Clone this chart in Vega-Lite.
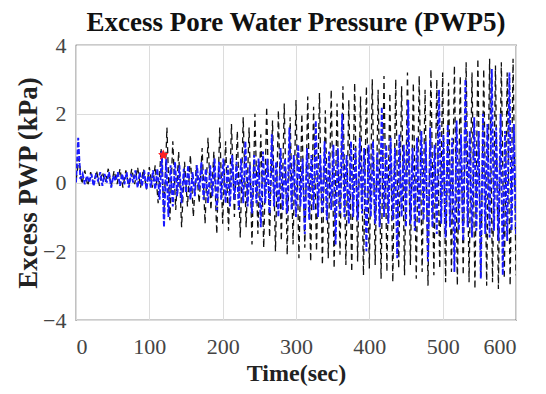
{
  "$schema": "https://vega.github.io/schema/vega-lite/v6.json",
  "width": 440,
  "height": 275,
  "autosize": "none",
  "padding": {"left": 76, "top": 45, "right": 30, "bottom": 74},
  "background": "white",
  "title": {"text": "Excess Pore Water Pressure (PWP5)", "font": "Liberation Serif", "fontSize": 27, "fontWeight": "bold", "color": "#111111", "offset": -3, "anchor": "middle"},
  "config": {
    "view": {"stroke": "#333333", "strokeWidth": 1.2},
    "axis": {"labelFont": "Liberation Serif", "labelFontSize": 22, "labelColor": "#444444", "titleFont": "Liberation Serif", "titleFontWeight": "bold", "titleColor": "#222222", "grid": true, "gridColor": "#dcdcdc", "gridWidth": 1, "domain": false, "ticks": false}
  },
  "datasets": {
    "black": [
      {"t":0,"v":0.05},{"t":4,"v":0.7},{"t":8,"v":-0.05},{"t":12,"v":0.35},{"t":16,"v":-0.1},{"t":20,"v":0.3},{"t":24,"v":-0.05},{"t":28,"v":0.35},{"t":32,"v":-0.1},{"t":36,"v":0.3},
      {"t":40,"v":0.0},{"t":44,"v":0.4},{"t":48,"v":-0.1},{"t":52,"v":0.35},{"t":56,"v":-0.05},{"t":60,"v":0.4},{"t":64,"v":-0.15},{"t":68,"v":0.35},{"t":72,"v":-0.1},{"t":76,"v":0.4},
      {"t":80,"v":-0.05},{"t":84,"v":0.45},{"t":88,"v":-0.15},{"t":92,"v":0.4},{"t":96,"v":-0.2},{"t":100,"v":0.45},{"t":104,"v":-0.15},{"t":108,"v":0.5},{"t":112,"v":-0.6},{"t":116,"v":1.0},
      {"t":120,"v":-0.9},{"t":124,"v":1.6},{"t":128,"v":-1.1},{"t":132,"v":1.2},{"t":136,"v":-0.8},{"t":140,"v":0.9},{"t":144,"v":-1.3},{"t":148,"v":0.6},{"t":152,"v":-0.7},{"t":156,"v":0.8},
      {"t":160,"v":-1.0},{"t":164,"v":0.5},{"t":168,"v":-0.6},{"t":172,"v":1.0},{"t":176,"v":-1.2},{"t":180,"v":1.3},{"t":184,"v":-0.8},{"t":188,"v":0.9},{"t":192,"v":-1.5},{"t":196,"v":1.6},
      {"t":200,"v":-1.2},{"t":204,"v":1.2},{"t":208,"v":-1.4},{"t":212,"v":1.7},{"t":216,"v":-1.0},{"t":220,"v":1.5},{"t":224,"v":-1.6},{"t":228,"v":1.9},{"t":232,"v":-1.3},{"t":236,"v":1.6},
      {"t":240,"v":-1.8},{"t":244,"v":2.0},{"t":248,"v":-1.5},{"t":252,"v":1.4},{"t":256,"v":-1.9},{"t":260,"v":2.2},{"t":264,"v":-1.6},{"t":268,"v":1.8},{"t":272,"v":-2.0},{"t":276,"v":2.1},
      {"t":280,"v":-1.7},{"t":284,"v":2.3},{"t":288,"v":-2.1},{"t":292,"v":1.9},{"t":296,"v":-1.8},{"t":300,"v":2.4},{"t":304,"v":-2.2},{"t":308,"v":2.0},{"t":312,"v":-1.9},{"t":316,"v":2.5},
      {"t":320,"v":-2.3},{"t":324,"v":2.2},{"t":328,"v":-2.0},{"t":332,"v":2.6},{"t":336,"v":-2.4},{"t":340,"v":2.1},{"t":344,"v":-2.2},{"t":348,"v":2.7},{"t":352,"v":-2.5},{"t":356,"v":2.3},
      {"t":360,"v":-2.1},{"t":364,"v":2.8},{"t":368,"v":-2.4},{"t":372,"v":2.4},{"t":376,"v":-2.6},{"t":380,"v":2.9},{"t":384,"v":-2.3},{"t":388,"v":2.5},{"t":392,"v":-2.7},{"t":396,"v":2.8},
      {"t":400,"v":-2.5},{"t":404,"v":3.0},{"t":408,"v":-2.4},{"t":412,"v":2.7},{"t":416,"v":-2.8},{"t":420,"v":3.1},{"t":424,"v":-2.6},{"t":428,"v":2.6},{"t":432,"v":-2.9},{"t":436,"v":3.0},
      {"t":440,"v":-2.5},{"t":444,"v":2.8},{"t":448,"v":-2.7},{"t":452,"v":3.2},{"t":456,"v":-2.4},{"t":460,"v":2.9},{"t":464,"v":-2.8},{"t":468,"v":3.1},{"t":472,"v":-2.6},{"t":476,"v":2.7},
      {"t":480,"v":-3.0},{"t":484,"v":3.3},{"t":488,"v":-2.7},{"t":492,"v":3.0},{"t":496,"v":-2.5},{"t":500,"v":3.2},{"t":504,"v":-2.9},{"t":508,"v":2.9},{"t":512,"v":-2.6},{"t":516,"v":3.4},
      {"t":520,"v":-3.0},{"t":524,"v":3.1},{"t":528,"v":-2.7},{"t":532,"v":3.5},{"t":536,"v":-2.9},{"t":540,"v":3.2},{"t":544,"v":-3.1},{"t":548,"v":3.6},{"t":552,"v":-2.8},{"t":556,"v":3.3},
      {"t":560,"v":-3.0},{"t":564,"v":3.6},{"t":568,"v":-2.9},{"t":572,"v":3.4},{"t":576,"v":-3.1},{"t":580,"v":3.5},{"t":584,"v":-2.8},{"t":588,"v":3.2},{"t":592,"v":-3.0},{"t":596,"v":3.6},
      {"t":600,"v":-2.7}
    ],
    "blue": [
      {"t":0,"v":0.0},{"t":3,"v":1.3},{"t":6,"v":0.1},{"t":9,"v":0.25},{"t":12,"v":-0.05},{"t":15,"v":0.2},{"t":18,"v":0.0},{"t":21,"v":0.25},{"t":24,"v":-0.1},{"t":27,"v":0.2},
      {"t":30,"v":0.05},{"t":33,"v":0.3},{"t":36,"v":-0.1},{"t":39,"v":0.25},{"t":42,"v":0.0},{"t":45,"v":0.3},{"t":48,"v":-0.15},{"t":51,"v":0.2},{"t":54,"v":0.05},{"t":57,"v":0.3},
      {"t":60,"v":-0.1},{"t":63,"v":0.25},{"t":66,"v":-0.05},{"t":69,"v":0.3},{"t":72,"v":-0.15},{"t":75,"v":0.25},{"t":78,"v":0.0},{"t":81,"v":0.35},{"t":84,"v":-0.15},{"t":87,"v":0.3},
      {"t":90,"v":-0.1},{"t":93,"v":0.35},{"t":96,"v":-0.2},{"t":99,"v":0.3},{"t":102,"v":-0.15},{"t":105,"v":0.35},{"t":108,"v":-0.2},{"t":111,"v":0.4},{"t":114,"v":-0.5},{"t":117,"v":0.9},
      {"t":120,"v":-1.3},{"t":123,"v":0.7},{"t":126,"v":-1.0},{"t":129,"v":0.5},{"t":132,"v":-0.7},{"t":135,"v":0.6},{"t":138,"v":-0.4},{"t":141,"v":0.5},{"t":144,"v":-0.6},{"t":147,"v":0.4},
      {"t":150,"v":-0.3},{"t":153,"v":0.5},{"t":156,"v":-0.5},{"t":159,"v":0.3},{"t":162,"v":-0.4},{"t":165,"v":0.5},{"t":168,"v":-0.2},{"t":171,"v":0.6},{"t":174,"v":-0.5},{"t":177,"v":0.4},
      {"t":180,"v":-0.6},{"t":183,"v":0.5},{"t":186,"v":-0.4},{"t":189,"v":0.7},{"t":192,"v":-0.8},{"t":195,"v":0.6},{"t":198,"v":-0.5},{"t":201,"v":0.7},{"t":204,"v":-0.6},{"t":207,"v":0.5},
      {"t":210,"v":-0.7},{"t":213,"v":0.8},{"t":216,"v":-0.5},{"t":219,"v":0.6},{"t":222,"v":-0.8},{"t":225,"v":0.7},{"t":228,"v":-0.6},{"t":231,"v":1.2},{"t":234,"v":-0.7},{"t":237,"v":0.5},
      {"t":240,"v":-0.9},{"t":243,"v":0.8},{"t":246,"v":-0.6},{"t":249,"v":0.7},{"t":252,"v":-1.3},{"t":255,"v":0.9},{"t":258,"v":-0.6},{"t":261,"v":0.7},{"t":264,"v":-0.9},{"t":267,"v":1.4},
      {"t":270,"v":-0.7},{"t":273,"v":0.6},{"t":276,"v":-1.0},{"t":279,"v":1.0},{"t":282,"v":-0.8},{"t":285,"v":0.7},{"t":288,"v":-0.9},{"t":291,"v":1.6},{"t":294,"v":-0.8},{"t":297,"v":0.8},
      {"t":300,"v":-1.0},{"t":303,"v":1.1},{"t":306,"v":-0.7},{"t":309,"v":0.7},{"t":312,"v":-1.5},{"t":315,"v":1.0},{"t":318,"v":-1.1},{"t":321,"v":0.8},{"t":324,"v":-0.8},{"t":327,"v":1.8},
      {"t":330,"v":-1.0},{"t":333,"v":0.8},{"t":336,"v":-0.9},{"t":339,"v":1.2},{"t":342,"v":-1.1},{"t":345,"v":0.9},{"t":348,"v":-0.8},{"t":351,"v":1.1},{"t":354,"v":-1.8},{"t":357,"v":1.0},
      {"t":360,"v":-0.9},{"t":363,"v":2.0},{"t":366,"v":-1.0},{"t":369,"v":0.8},{"t":372,"v":-1.2},{"t":375,"v":1.2},{"t":378,"v":-1.0},{"t":381,"v":1.0},{"t":384,"v":-1.1},{"t":387,"v":1.3},
      {"t":390,"v":-0.9},{"t":393,"v":1.0},{"t":396,"v":-2.0},{"t":399,"v":1.1},{"t":402,"v":-1.0},{"t":405,"v":1.2},{"t":408,"v":-1.2},{"t":411,"v":0.9},{"t":414,"v":-1.3},{"t":417,"v":2.2},
      {"t":420,"v":-1.0},{"t":423,"v":1.1},{"t":426,"v":-1.2},{"t":429,"v":1.3},{"t":432,"v":-1.1},{"t":435,"v":1.0},{"t":438,"v":-2.2},{"t":441,"v":1.4},{"t":444,"v":-1.0},{"t":447,"v":1.1},
      {"t":450,"v":-1.3},{"t":453,"v":2.4},{"t":456,"v":-1.2},{"t":459,"v":1.0},{"t":462,"v":-1.4},{"t":465,"v":1.3},{"t":468,"v":-1.2},{"t":471,"v":1.5},{"t":474,"v":-1.1},{"t":477,"v":1.2},
      {"t":480,"v":-2.3},{"t":483,"v":1.6},{"t":486,"v":-1.3},{"t":489,"v":1.1},{"t":492,"v":-1.5},{"t":495,"v":2.7},{"t":498,"v":-1.2},{"t":501,"v":1.4},{"t":504,"v":-1.6},{"t":507,"v":1.7},
      {"t":510,"v":-1.3},{"t":513,"v":1.3},{"t":516,"v":-2.6},{"t":519,"v":1.8},{"t":522,"v":-1.4},{"t":525,"v":1.4},{"t":528,"v":-1.7},{"t":531,"v":3.0},{"t":534,"v":-1.3},{"t":537,"v":1.5},
      {"t":540,"v":-1.6},{"t":543,"v":1.9},{"t":546,"v":-1.4},{"t":549,"v":1.5},{"t":552,"v":-2.8},{"t":555,"v":2.0},{"t":558,"v":-1.5},{"t":561,"v":1.7},{"t":564,"v":-1.6},{"t":567,"v":3.3},
      {"t":570,"v":-1.4},{"t":573,"v":1.6},{"t":576,"v":-1.7},{"t":579,"v":2.0},{"t":582,"v":-2.7},{"t":585,"v":1.5},{"t":588,"v":-1.7},{"t":591,"v":3.2},{"t":594,"v":-1.4},{"t":597,"v":1.7},
      {"t":600,"v":-1.5}
    ],
    "marker": [{"t":119,"v":0.8}]
  },
  "layer": [
    {
      "data": {"name": "black"},
      "mark": {"type": "line", "color": "#111111", "strokeWidth": 1.3, "strokeDash": [6, 4], "clip": true},
      "encoding": {
        "x": {"field": "t", "type": "quantitative", "scale": {"domain": [0, 600], "nice": false}, "axis": {"values": [0, 100, 200, 300, 400, 500, 600], "title": "Time(sec)", "titleFontSize": 24, "labelPadding": 16, "titlePadding": 4}},
        "y": {"field": "v", "type": "quantitative", "scale": {"domain": [-4, 4], "nice": false}, "axis": {"values": [-4, -2, 0, 2, 4], "title": "Excess PWP (kPa)", "titleFontSize": 27, "labelPadding": 10, "titlePadding": 0}}
      }
    },
    {
      "data": {"name": "blue"},
      "mark": {"type": "line", "color": "#1a1aff", "strokeWidth": 1.9, "strokeDash": [5, 2], "clip": true},
      "encoding": {
        "x": {"field": "t", "type": "quantitative"},
        "y": {"field": "v", "type": "quantitative"}
      }
    },
    {
      "data": {"name": "marker"},
      "mark": {"type": "point", "shape": "M0,-1L0.29,-0.4L0.95,-0.31L0.47,0.15L0.59,0.81L0,0.5L-0.59,0.81L-0.47,0.15L-0.95,-0.31L-0.29,-0.4Z", "filled": true, "color": "#ff2020", "size": 120, "opacity": 1},
      "encoding": {
        "x": {"field": "t", "type": "quantitative"},
        "y": {"field": "v", "type": "quantitative"}
      }
    }
  ]
}
